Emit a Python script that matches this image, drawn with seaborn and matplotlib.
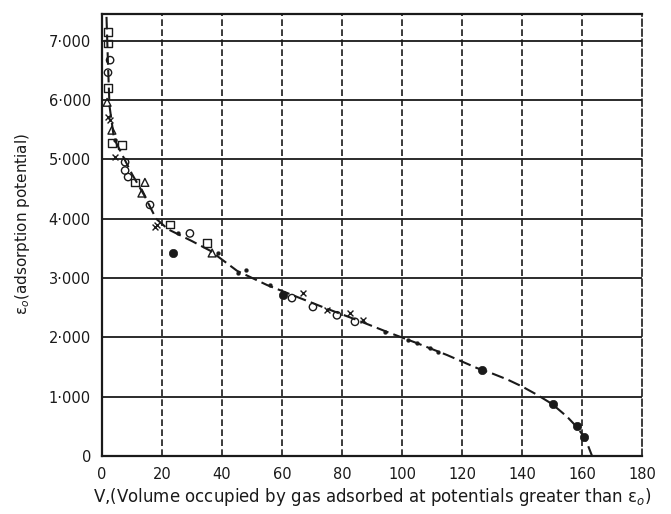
import numpy as np
import matplotlib
matplotlib.use("Agg")
import matplotlib.pyplot as plt
import pandas as pd
import seaborn as sns

# characteristic curve (dashed line)
curve_v = [1.5, 2, 2.5, 4, 7, 10, 14, 18, 22, 26, 30, 36, 45, 55, 65, 75, 85, 95,
           105, 115, 125, 130, 135, 140, 145, 150, 155, 158, 161, 163.3]
curve_e = [7400, 6600, 5900, 5350, 5050, 4750, 4400, 4000, 3820, 3720, 3620, 3460,
           3120, 2880, 2680, 2480, 2290, 2090, 1900, 1700, 1480, 1390, 1290, 1170,
           1030, 875, 660, 500, 300, 0]

# measured points, by marker type
square_v = [2, 2, 2, 3.3, 6.7, 11, 22.7, 35]
square_e = [7140, 6950, 6200, 5270, 5240, 4610, 3900, 3590]

triangle_v = [1.7, 3.3, 14.3, 13.3, 36.7]
triangle_e = [5960, 5490, 4610, 4430, 3420]

circle_v = [2.7, 2, 7.7, 7.7, 8.7, 16, 29.3, 63.3, 70.3, 78.3, 84.3]
circle_e = [6670, 6460, 4950, 4810, 4700, 4230, 3750, 2660, 2510, 2370, 2260]

cross_v = [2, 2.7, 4.3, 18.3, 17.7, 67, 75, 82.7, 87]
cross_e = [5710, 5660, 5030, 3890, 3860, 2740, 2460, 2410, 2290]

filled_v = [23.7, 60.3, 126.7, 150.3, 158.3, 160.7]
filled_e = [3420, 2710, 1450, 875, 505, 320]

dot_v = [4.3, 25.3, 38.7, 45.3, 48, 56, 94.3, 102, 105, 109.3, 112]
dot_e = [5320, 3750, 3420, 3080, 3130, 2880, 2090, 1950, 1900, 1820, 1750]

x_ticks = [0, 20, 40, 60, 80, 100, 120, 140, 160, 180]
y_ticks = [0, 1000, 2000, 3000, 4000, 5000, 6000, 7000]
y_labels = ["0", "1·000", "2·000", "3·000", "4·000", "5·000", "6·000", "7·000"]

sns.set_style("white")
plt.rcParams["font.family"] = ["DejaVu Sans"]

fig = plt.figure(figsize=(6.71, 5.14), dpi=100)
ax = fig.add_axes([0.152, 0.113, 0.805, 0.86])

ink = "#1a1a1a"

# grid: solid horizontal, dashed vertical
for yv in y_ticks[1:]:
    ax.axhline(yv, color=ink, lw=1.3, zorder=1)
for xv in x_ticks[1:-1]:
    ax.axvline(xv, color=ink, lw=1.2, ls=(0, (4, 2)), zorder=1)

curve = pd.DataFrame({"v": curve_v, "e": curve_e})
sns.lineplot(data=curve, x="v", y="e", sort=False, estimator=None, ax=ax,
             color=ink, lw=1.5, ls=(0, (6, 2.5)), zorder=2)

open_kw = dict(facecolor="none", edgecolor=ink, linewidth=1.0, zorder=3, ax=ax)
sns.scatterplot(x=square_v, y=square_e, marker="s", s=30, **open_kw)
sns.scatterplot(x=triangle_v, y=triangle_e, marker="^", s=32, **open_kw)
sns.scatterplot(x=circle_v, y=circle_e, marker="o", s=28, **open_kw)
sns.scatterplot(x=cross_v, y=cross_e, marker="x", s=18, color=ink, linewidth=1.0,
                zorder=3, ax=ax)
sns.scatterplot(x=filled_v, y=filled_e, marker="o", s=36, color=ink,
                edgecolor=ink, zorder=4, ax=ax)
sns.scatterplot(x=dot_v, y=dot_e, marker="o", s=8, color=ink, edgecolor=ink,
                zorder=3, ax=ax)

ax.set_xlim(0, 180)
ax.set_ylim(0, 7450)
ax.set_xticks(x_ticks)
ax.set_yticks(y_ticks)
ax.set_yticklabels(y_labels)
ax.tick_params(length=0, labelsize=10.5, colors=ink, pad=8)
for s in ax.spines.values():
    s.set_color(ink)
    s.set_linewidth(1.6)
ax.spines["right"].set_linestyle((0, (4, 2)))
ax.spines["right"].set_linewidth(1.2)

ax.set_xlabel("V,(Volume occupied by gas adsorbed at potentials greater than ε$_o$)",
              fontsize=12, color=ink, labelpad=3)
ax.set_ylabel("ε$_o$(adsorption potential)", fontsize=11, color=ink)
ax.yaxis.set_label_coords(-0.13, 0.525)

fig.savefig("out.png", dpi=100)
